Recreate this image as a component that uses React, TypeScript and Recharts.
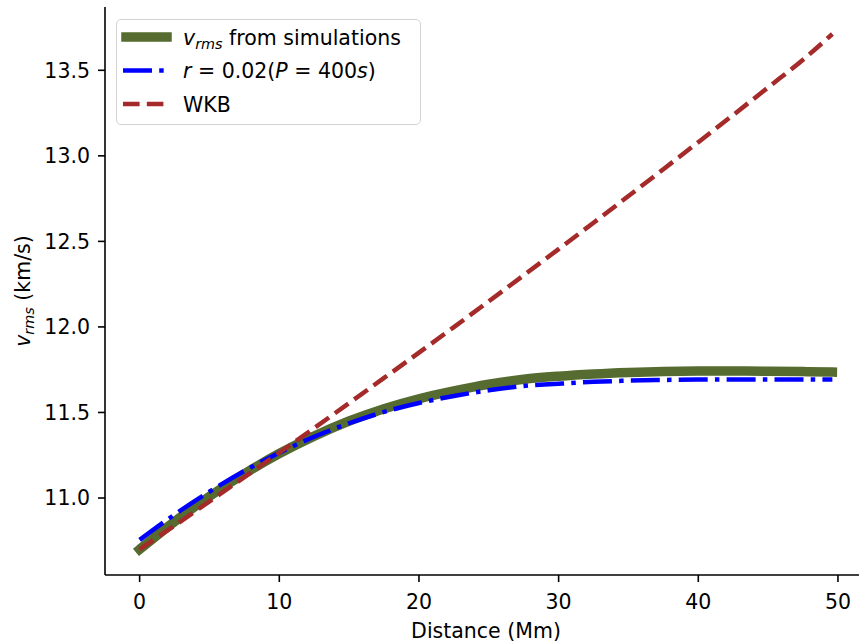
import React from 'react';
import { LineChart, Line, XAxis, YAxis, Legend } from 'recharts';

const distance = [0, 2.5, 5, 7.5, 10, 12.5, 15, 17.5, 20, 22.5, 25, 27.5, 30, 32.5, 35, 37.5, 40, 42.5, 45, 47.5, 49.6];
const simulations = [10.70, 10.862, 11.01, 11.142, 11.26, 11.362, 11.45, 11.522, 11.58, 11.626, 11.665, 11.694, 11.712, 11.725, 11.734, 11.74, 11.742, 11.742, 11.741, 11.739, 11.736];
const fitR002 = [10.755, 10.903, 11.037, 11.158, 11.265, 11.358, 11.437, 11.503, 11.555, 11.596, 11.63, 11.655, 11.668, 11.679, 11.686, 11.69, 11.692, 11.693, 11.693, 11.692, 11.692];
const wkb = [10.70, 10.839, 10.98, 11.122, 11.265, 11.409, 11.555, 11.702, 11.85, 11.999, 12.15, 12.302, 12.455, 12.609, 12.765, 12.922, 13.08, 13.239, 13.40, 13.562, 13.712];

const xTicks = [0, 10, 20, 30, 40, 50];
const yTicks = [11.0, 11.5, 12.0, 12.5, 13.0, 13.5];

const data = distance.map((d, i) => ({ d, sim: simulations[i], fit: fitR002[i], wkb: wkb[i] }));

const FONT = "'DejaVu Sans', sans-serif";
const FS = 20.5;

const series = [
  { key: 'sim', color: '#556b2f', width: 9.5, dash: undefined as string | undefined, cap: 'square' as const },
  { key: 'fit', color: '#0000ff', width: 4.5, dash: '29 7.2 4.5 7.2', cap: 'butt' as const },
  { key: 'wkb', color: '#a52a2a', width: 4.5, dash: '16.6 7.2', cap: 'butt' as const },
];

const legendLabel = (key: string) => {
  if (key === 'sim') {
    return (
      <>
        <tspan fontStyle="italic">v</tspan>
        <tspan fontStyle="italic" fontSize={14.4} dy={4}>rms</tspan>
        <tspan dy={-4}> from simulations</tspan>
      </>
    );
  }
  if (key === 'fit') {
    return (
      <>
        <tspan fontStyle="italic">r</tspan>
        <tspan> = 0.02(</tspan>
        <tspan fontStyle="italic">P</tspan>
        <tspan> = 400</tspan>
        <tspan fontStyle="italic">s</tspan>
        <tspan>)</tspan>
      </>
    );
  }
  return <tspan>WKB</tspan>;
};

// legend keeps the plotting order (recharts sorts the payload by name otherwise)
const LegendBox = () => (
  <div
    style={{
      width: 305,
      height: 106,
      boxSizing: 'border-box',
      border: '1.6px solid #d3d3d3',
      borderRadius: 5,
      background: 'rgba(255,255,255,0.85)',
    }}
  >
    <svg width={302} height={103} style={{ display: 'block' }}>
      {series.map((s, i) => {
        const cy = 17 + i * 33.5;
        const x1 = s.cap === 'square' ? 9 : 6;
        const x2 = s.cap === 'square' ? 50 : 47;
        return (
          <g key={s.key}>
            <line
              x1={x1}
              x2={x2}
              y1={cy}
              y2={cy}
              stroke={s.color}
              strokeWidth={s.width}
              strokeDasharray={s.dash}
              strokeLinecap={s.cap}
            />
            <text x={66} y={cy + 7.5} fontFamily={FONT} fontSize={FS} fill="#000">
              {legendLabel(s.key)}
            </text>
          </g>
        );
      })}
    </svg>
  </div>
);

const YLabel = (props: any) => {
  const vb = props.viewBox || { x: 45, y: 7, width: 60, height: 568 };
  const x = vb.x - 15;
  const y = vb.y + vb.height / 2;
  return (
    <text
      x={x}
      y={y}
      transform={`rotate(-90, ${x}, ${y})`}
      textAnchor="middle"
      fontFamily={FONT}
      fontSize={FS}
      fill="#000"
    >
      <tspan fontStyle="italic">v</tspan>
      <tspan fontStyle="italic" fontSize={14.4} dy={4}>rms</tspan>
      <tspan dy={-4}> (km/s)</tspan>
    </text>
  );
};

const tickStyle = { fill: '#000', fontSize: FS, fontFamily: FONT };

export default function App() {
  return (
    <div style={{ position: 'fixed', left: 0, top: 0, width: 859, height: 642, overflow: 'hidden', background: '#fff' }}>
      <LineChart
        width={875}
        height={642}
        data={data}
        margin={{ top: 7, right: 8, bottom: 7, left: 45 }}
      >
        <XAxis
          dataKey="d"
          type="number"
          domain={[-2.48, 52.08]}
          ticks={xTicks}
          allowDataOverflow
          height={60}
          tickSize={7}
          tickMargin={12}
          tick={tickStyle}
          axisLine={{ stroke: '#000', strokeWidth: 1.6 }}
          tickLine={{ stroke: '#000', strokeWidth: 1.6 }}
          label={{ value: 'Distance (Mm)', position: 'insideBottom', offset: -3, fill: '#000', fontSize: FS, fontFamily: FONT }}
        />
        <XAxis
          xAxisId="top"
          dataKey="d"
          type="number"
          orientation="top"
          domain={[-2.48, 52.08]}
          allowDataOverflow
          height={0}
          tick={false}
          tickLine={false}
          axisLine={{ stroke: '#000', strokeWidth: 1.6 }}
        />
        <YAxis
          type="number"
          domain={[10.55, 13.87]}
          ticks={yTicks}
          allowDataOverflow
          width={60}
          tickSize={7}
          tickMargin={8}
          tick={tickStyle}
          tickFormatter={(v: number) => v.toFixed(1)}
          axisLine={{ stroke: '#000', strokeWidth: 1.6 }}
          tickLine={{ stroke: '#000', strokeWidth: 1.6 }}
          label={<YLabel />}
        />
        <Legend
          layout="vertical"
          align="center"
          verticalAlign="middle"
          content={<LegendBox />}
          wrapperStyle={{ left: 116, top: 19, width: 305, height: 106, right: 'auto', bottom: 'auto' }}
        />
        {series.map((s) => (
          <Line
            key={s.key}
            type="monotone"
            dataKey={s.key}
            stroke={s.color}
            strokeWidth={s.width}
            strokeDasharray={s.dash}
            strokeLinecap={s.cap}
            dot={false}
            activeDot={false}
            isAnimationActive={false}
          />
        ))}
      </LineChart>
    </div>
  );
}
